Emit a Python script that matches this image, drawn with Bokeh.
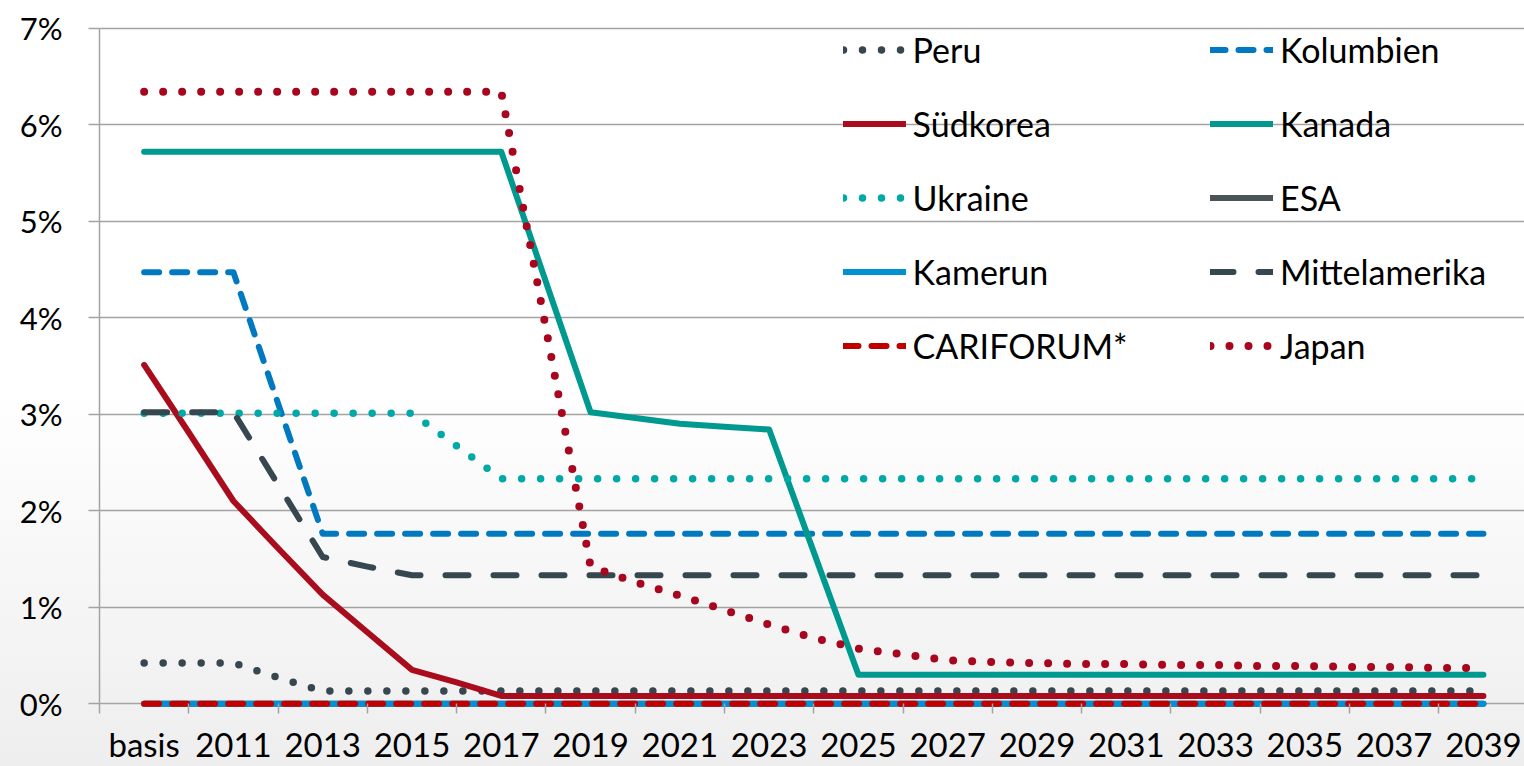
from bokeh.plotting import figure
from bokeh.models import Range1d, FixedTicker, PrintfTickFormatter, Legend, LegendItem
from bokeh.embed import file_html
from bokeh.resources import INLINE

# ---------------- data ----------------
categories = ["basis", "2010", "2011", "2012", "2013", "2014", "2015", "2016", "2017", "2018",
              "2019", "2020", "2021", "2022", "2023", "2024", "2025", "2026", "2027", "2028",
              "2029", "2030", "2031", "2032", "2033", "2034", "2035", "2036", "2037", "2038",
              "2039"]
tick_labels = ["basis", "2011", "2013", "2015", "2017", "2019", "2021", "2023", "2025",
               "2027", "2029", "2031", "2033", "2035", "2037", "2039"]
y_ticks = [0, 1, 2, 3, 4, 5, 6, 7]

# values in percent
peru = [0.42, 0.42, 0.42, 0.27, 0.13, 0.13, 0.13, 0.13, 0.13, 0.13, 0.13, 0.13, 0.13, 0.13,
        0.13, 0.13, 0.13, 0.13, 0.13, 0.13, 0.13, 0.13, 0.13, 0.13, 0.13, 0.13, 0.13, 0.13,
        0.13, 0.13, 0.13]
kolumbien = [4.47, 4.47, 4.47, 3.11, 1.76, 1.76, 1.76, 1.76, 1.76, 1.76, 1.76, 1.76, 1.76,
             1.76, 1.76, 1.76, 1.76, 1.76, 1.76, 1.76, 1.76, 1.76, 1.76, 1.76, 1.76, 1.76,
             1.76, 1.76, 1.76, 1.76, 1.76]
suedkorea = [3.51, 2.81, 2.10, 1.61, 1.13, 0.74, 0.35, 0.22, 0.08, 0.08, 0.08, 0.08, 0.08,
             0.08, 0.08, 0.08, 0.08, 0.08, 0.08, 0.08, 0.08, 0.08, 0.08, 0.08, 0.08, 0.08,
             0.08, 0.08, 0.08, 0.08, 0.08]
kanada = [5.72, 5.72, 5.72, 5.72, 5.72, 5.72, 5.72, 5.72, 5.72, 4.37, 3.02, 2.96, 2.90,
          2.87, 2.84, 1.57, 0.30, 0.30, 0.30, 0.30, 0.30, 0.30, 0.30, 0.30, 0.30, 0.30,
          0.30, 0.30, 0.30, 0.30, 0.30]
ukraine = [3.01, 3.01, 3.01, 3.01, 3.01, 3.01, 3.01, 2.67, 2.33, 2.33, 2.33, 2.33, 2.33,
           2.33, 2.33, 2.33, 2.33, 2.33, 2.33, 2.33, 2.33, 2.33, 2.33, 2.33, 2.33, 2.33,
           2.33, 2.33, 2.33, 2.33, 2.33]
esa = [0.0, 0.0, 0.0, 0.0, 0.0, 0.0, 0.0, 0.0, 0.0, 0.0, 0.0, 0.0, 0.0, 0.0, 0.0, 0.0,
       0.0, 0.0, 0.0, 0.0, 0.0, 0.0, 0.0, 0.0, 0.0, 0.0, 0.0, 0.0, 0.0, 0.0, 0.0]
kamerun = [0.0, 0.0, 0.0, 0.0, 0.0, 0.0, 0.0, 0.0, 0.0, 0.0, 0.0, 0.0, 0.0, 0.0, 0.0, 0.0,
           0.0, 0.0, 0.0, 0.0, 0.0, 0.0, 0.0, 0.0, 0.0, 0.0, 0.0, 0.0, 0.0, 0.0, 0.0]
mittelamerika = [3.02, 3.02, 3.02, 2.27, 1.52, 1.42, 1.33, 1.33, 1.33, 1.33, 1.33, 1.33,
                 1.33, 1.33, 1.33, 1.33, 1.33, 1.33, 1.33, 1.33, 1.33, 1.33, 1.33, 1.33,
                 1.33, 1.33, 1.33, 1.33, 1.33, 1.33, 1.33]
cariforum = [0.0, 0.0, 0.0, 0.0, 0.0, 0.0, 0.0, 0.0, 0.0, 0.0, 0.0, 0.0, 0.0, 0.0, 0.0,
             0.0, 0.0, 0.0, 0.0, 0.0, 0.0, 0.0, 0.0, 0.0, 0.0, 0.0, 0.0, 0.0, 0.0, 0.0, 0.0]
japan = [6.34, 6.34, 6.34, 6.34, 6.34, 6.34, 6.34, 6.34, 6.34, 3.89, 1.42, 1.26, 1.12,
         0.97, 0.82, 0.68, 0.57, 0.51, 0.45, 0.43, 0.42, 0.41, 0.41, 0.40, 0.40, 0.39,
         0.39, 0.38, 0.38, 0.37, 0.37]

# ---------------- figure ----------------
FONT = "Lato"
GRID = "#A3A3A3"

xs = [i + 1 for i in range(len(categories))]

p = figure(width=1524, height=766, output_backend="svg", toolbar_location=None,
           x_range=Range1d(0, 31.92), y_range=Range1d(-0.04, 7.1),
           min_border_left=99, min_border_right=0, min_border_top=18, min_border_bottom=57)
p.background_fill_color = None
p.border_fill_color = None
p.outline_line_color = None
p.styles = {"background-image": "linear-gradient(to bottom, #ffffff 0%, #ffffff 50%, #eeeeee 100%)"}

p.xgrid.visible = False
p.ygrid.ticker = FixedTicker(ticks=y_ticks)
p.ygrid.grid_line_color = GRID
p.ygrid.grid_line_width = 1.5

# y axis
p.yaxis.ticker = FixedTicker(ticks=y_ticks)
p.yaxis.bounds = (y_ticks[0], y_ticks[-1])
p.yaxis.formatter = PrintfTickFormatter(format="%d%%")
p.yaxis.axis_line_color = GRID
p.yaxis.axis_line_width = 1.5
p.yaxis.major_tick_line_color = GRID
p.yaxis.major_tick_line_width = 1.5
p.yaxis.major_tick_out = 11
p.yaxis.major_tick_in = 0
p.yaxis.minor_tick_line_color = None
p.yaxis.major_label_standoff = 26
p.yaxis.major_label_text_font = FONT
p.yaxis.major_label_text_font_size = "31px"
p.yaxis.major_label_text_color = "#000000"

# x axis
label_pos = [xs[categories.index(t)] for t in tick_labels]
tick_pos = [0] + [v + 1 for v in label_pos[:-1]]
p.xaxis.ticker = FixedTicker(ticks=label_pos, minor_ticks=tick_pos)
p.xaxis.major_label_overrides = {pos: t for pos, t in zip(label_pos, tick_labels)}
p.xaxis.axis_line_color = None
p.xaxis.major_tick_line_color = None
p.xaxis.major_tick_out = 6
p.xaxis.major_tick_in = 0
p.xaxis.minor_tick_line_color = GRID
p.xaxis.minor_tick_line_width = 1.5
p.xaxis.minor_tick_in = 4
p.xaxis.minor_tick_out = 6
p.xaxis.major_label_standoff = 10
p.xaxis.major_label_text_font = FONT
p.xaxis.major_label_text_font_size = "33px"
p.xaxis.major_label_text_color = "#000000"

# ---------------- series ----------------
DOT = "0 19"
DASH = "15 13"
LONGDASH = "23 25"
series = [
    ("Peru", peru, "#37474F", DOT, 7.5),
    ("Kolumbien", kolumbien, "#0079C1", DASH, 6),
    ("Südkorea", suedkorea, "#A80C1D", "solid", 6),
    ("Kanada", kanada, "#009990", "solid", 6),
    ("Ukraine", ukraine, "#00A9A6", DOT, 7.5),
    ("ESA", esa, "#4A5459", "solid", 6),
    ("Kamerun", kamerun, "#0090D6", "solid", 6),
    ("Mittelamerika", mittelamerika, "#37474F", LONGDASH, 6),
    ("CARIFORUM*", cariforum, "#C00000", DASH, 6),
    ("Japan", japan, "#A8051F", DOT, 8),
]

renderers = {}
for name, vals, color, dash, w in series:
    r = p.line(xs, vals, line_color=color, line_width=w, line_dash=dash,
               line_cap="round", line_join="round")
    renderers[name] = r

col1 = ["Peru", "Südkorea", "Ukraine", "Kamerun", "CARIFORUM*"]
col2 = ["Kolumbien", "Kanada", "ESA", "Mittelamerika", "Japan"]

def make_legend(names, x):
    leg = Legend(items=[LegendItem(label=n, renderers=[renderers[n]]) for n in names],
                 location=(x, 341), orientation="vertical")
    leg.padding = 0
    leg.margin = 0
    leg.spacing = 33
    leg.label_height = 41
    leg.glyph_height = 41
    leg.glyph_width = 63
    leg.label_standoff = 7
    leg.border_line_color = None
    leg.background_fill_alpha = 0
    leg.label_text_font = FONT
    leg.label_text_font_size = "34px"
    leg.label_text_color = "#000000"
    return leg

p.add_layout(make_legend(col1, 743.6))
p.add_layout(make_legend(col2, 1111))

open("out.html", "w").write(file_html(p, INLINE))
